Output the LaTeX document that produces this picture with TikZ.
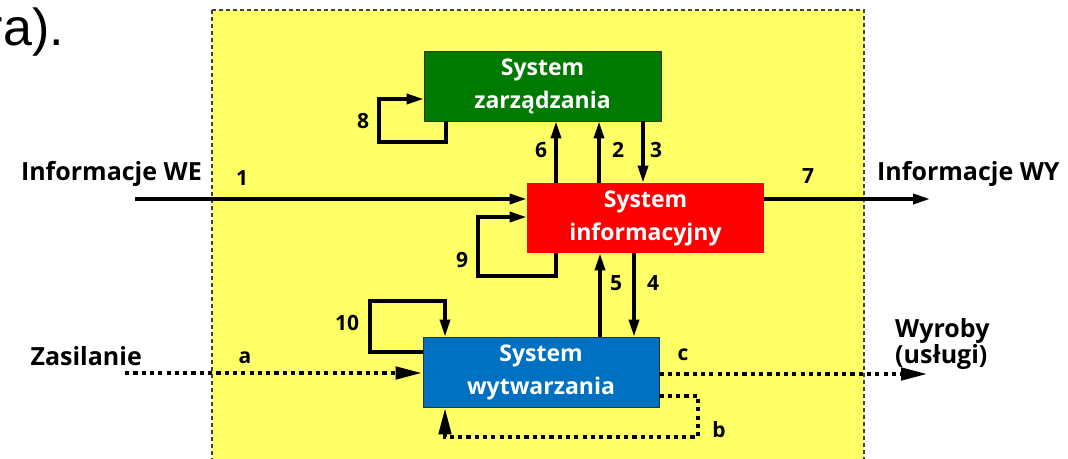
\documentclass[tikz,border=0pt]{standalone}
\usepackage{fontspec}
\setmainfont{Open Sans}
\newfontfamily\slidefont{Liberation Sans}
\usetikzlibrary{arrows.meta}
\definecolor{panel}{RGB}{255,255,102}
\definecolor{mgmt}{RGB}{0,122,0}
\definecolor{info}{RGB}{255,0,0}
\definecolor{prod}{RGB}{0,112,192}
\begin{document}
\begin{tikzpicture}[x=1pt,y=-1pt,
  sysbox/.style={draw=black!80,line width=0.8pt,minimum width=237pt,minimum height=70pt,
    inner sep=0pt,align=center,text=white,font=\fontsize{23}{33}\selectfont\bfseries},
  num/.style={anchor=base,font=\fontsize{21}{24}\selectfont\bfseries},
  side/.style={font=\fontsize{25}{23}\selectfont\bfseries},
  arr/.style={line width=3.5pt,-{Triangle[length=17pt,width=10pt]}},
  dotline/.style={line width=4.6pt,dash pattern=on 4.2pt off 4.1pt},
  dotarr/.style={dotline,-{Triangle[length=27pt,width=12pt]}}]
\useasboundingbox (0,0) rectangle (1068,458);

% slide text above the diagram
\node[anchor=base east,inner sep=0pt,font=\slidefont\fontsize{52}{60}\selectfont] (slide) at (64,45) {ra).};

% enterprise boundary
\draw[fill=panel,draw=black!75,line width=1.1pt,dash pattern=on 4pt off 3pt] (212,10) rectangle (864,480);

% subsystems
\node[sysbox,fill=mgmt] (green) at (542.5,86) {System\\zarządzania};
\node[sysbox,fill=info,draw=none] (red) at (645.5,218) {System\\informacyjny};
\node[sysbox,fill=prod,minimum width=236pt] (blue) at (541,372) {System\\wytwarzania};

% helper points
\coordinate (we) at (135,199);
\coordinate (wy) at (930,199);
\coordinate (x6) at (556,0);
\coordinate (x2) at (599,0);
\coordinate (x3) at (643,0);
\coordinate (x5) at (600,0);
\coordinate (x4) at (634,0);
\coordinate (p8a) at (446,142);
\coordinate (p8b) at (379,99);
\coordinate (p9a) at (556,276);
\coordinate (p9b) at (478,217);
\coordinate (p10a) at (370,352);
\coordinate (p10b) at (445,301);
\coordinate (za) at (125,373);
\coordinate (wyr) at (928,374);
\coordinate (pb1) at (698,396);
\coordinate (pb2) at (445,437);

% information flows
\draw[arr] (we) -- (we -| red.west);
\draw[arr] (wy -| red.east) -- (wy);
\draw[arr] (red.north -| x6) -- (green.south -| x6);
\draw[arr] (red.north -| x2) -- (green.south -| x2);
\draw[arr] (green.south -| x3) -- (red.north -| x3);
\draw[arr] (blue.north -| x5) -- (red.south -| x5);
\draw[arr] (red.south -| x4) -- (blue.north -| x4);

% feedback loops
\draw[arr] (green.south -| p8a) -- (p8a) -| (p8b) -- (p8b -| green.west);
\draw[arr] (red.south -| p9a) -- (p9a) -| (p9b) -- (p9b -| red.west);
\draw[arr] (blue.west |- p10a) -- (p10a) |- (p10b) -- (p10b |- blue.north);

% material flows
\draw[dotarr] (za) -- (za -| blue.west);
\draw[dotarr] (wyr -| blue.east) -- (wyr);
\draw[dotarr] (blue.east |- pb1) -- (pb1) |- (pb2) -- (pb2 |- blue.south);

% flow numbers
\node[num] (n1) at (242,185) {1};
\node[num] (n7) at (808,183) {7};
\node[num] (n6) at (541,157) {6};
\node[num] (n2) at (618,157) {2};
\node[num] (n3) at (656,157) {3};
\node[num] (n8) at (363,128) {8};
\node[num] (n9) at (462,267) {9};
\node[num] (n5) at (616,290) {5};
\node[num] (n4) at (653,290) {4};
\node[num] (n10) at (347,330) {10};
\node[num] (na) at (245,363) {a};
\node[num] (nc) at (683,360) {c};
\node[num] (nb) at (719,437) {b};

% outer labels
\node[side,anchor=base east,inner sep=0pt] (lwe) at (202,180) {Informacje WE};
\node[side,anchor=base west,inner sep=0pt] (lwy) at (877,180) {Informacje WY};
\node[side,anchor=base east,inner sep=0pt] (lzas) at (142,365) {Zasilanie};
\node[side,anchor=north west,inner sep=0pt,align=left] (lwyr) at (895,318) {Wyroby\\(usługi)};
\end{tikzpicture}
\end{document}
